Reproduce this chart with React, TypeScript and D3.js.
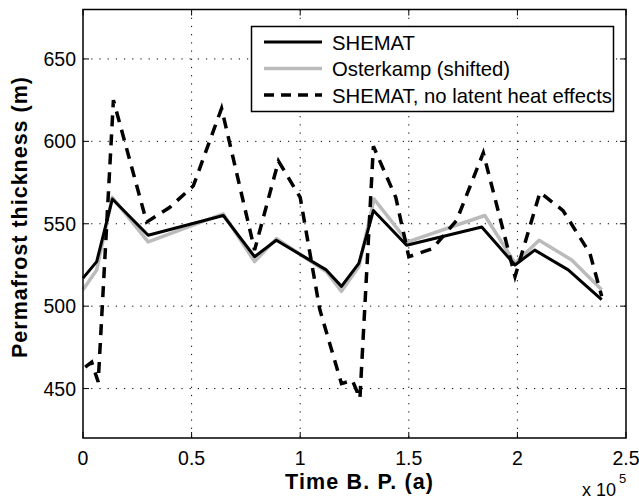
import React from "react";
import * as d3 from "d3";

const shematT = [0, 0.063, 0.135, 0.30, 0.646, 0.79, 0.89, 1.12, 1.19, 1.27, 1.337, 1.49, 1.836, 1.989, 2.08, 2.234, 2.388];
const shematV = [517, 527, 565, 543, 555, 530, 540, 522, 512, 526, 558, 537, 548, 525, 534, 522, 504];

const osterT = [0, 0.063, 0.135, 0.30, 0.646, 0.79, 0.89, 1.12, 1.19, 1.27, 1.34, 1.495, 1.85, 1.989, 2.10, 2.25, 2.388];
const osterV = [510, 522, 566, 539, 556, 527, 541, 521, 509, 524, 565, 539, 555, 526, 540, 528, 510];

const dashT = [0.01, 0.04, 0.07, 0.14, 0.293, 0.40, 0.508, 0.638, 0.79, 0.90, 1.00, 1.09, 1.19, 1.24, 1.275, 1.337, 1.44, 1.50, 1.61, 1.72, 1.78, 1.843, 1.989, 2.104, 2.21, 2.334, 2.388];
const dashV = [463, 466, 454, 625, 551, 560, 573, 620, 534, 588, 566, 498, 453, 455, 444, 597, 566, 530, 535, 552, 572, 593, 518, 569, 558, 532, 506];

const xTicks = [0, 0.5, 1, 1.5, 2, 2.5];
const xTickLabels = ["0", "0.5", "1", "1.5", "2", "2.5"];
const yTicks = [450, 500, 550, 600, 650];

const legendLabels = ["SHEMAT", "Osterkamp (shifted)", "SHEMAT, no latent heat effects"];

export default function App() {
  const left = 83, right = 626, top = 9.5, bottom = 438;
  const x = d3.scaleLinear().domain([0, 2.5]).range([left, right]);
  const y = d3.scaleLinear().domain([420, 680]).range([bottom, top]);
  const line = d3.line<[number, number]>().x(d => x(d[0])).y(d => y(d[1]));
  const shemat = shematT.map((t, i) => [t, shematV[i]] as [number, number]);
  const oster = osterT.map((t, i) => [t, osterV[i]] as [number, number]);
  const dash = dashT.map((t, i) => [t, dashV[i]] as [number, number]);
  const font = "Helvetica, Arial, 'Liberation Sans', sans-serif";

  const legendStyles = [
    { stroke: "#000", width: 3, dash: "" },
    { stroke: "#bbb", width: 3.5, dash: "" },
    { stroke: "#000", width: 3.5, dash: "10,7" },
  ];

  return (
    <svg width={639} height={500} style={{ position: "absolute", left: 0, top: 0, background: "#fff" }} fontFamily={font}>
      <rect x={0} y={0} width={639} height={500} fill="#fff" />
      {xTicks.slice(1, -1).map(t => (
        <line key={"gx" + t} x1={x(t)} x2={x(t)} y1={top} y2={bottom} stroke="#000" strokeWidth={1} strokeDasharray="1.2,7" />
      ))}
      {yTicks.map(t => (
        <line key={"gy" + t} x1={left} x2={right} y1={y(t)} y2={y(t)} stroke="#000" strokeWidth={1} strokeDasharray="1.2,7" />
      ))}
      {xTicks.map(t => (
        <g key={"tx" + t}>
          <line x1={x(t)} x2={x(t)} y1={bottom} y2={bottom - 6} stroke="#000" />
          <line x1={x(t)} x2={x(t)} y1={top} y2={top + 6} stroke="#000" />
        </g>
      ))}
      {yTicks.map(t => (
        <g key={"ty" + t}>
          <line x1={left} x2={left + 6} y1={y(t)} y2={y(t)} stroke="#000" />
          <line x1={right} x2={right - 6} y1={y(t)} y2={y(t)} stroke="#000" />
        </g>
      ))}
      <path d={line(oster) || ""} fill="none" stroke="#bbb" strokeWidth={3.5} strokeLinejoin="round" />
      <path d={line(shemat) || ""} fill="none" stroke="#000" strokeWidth={3} strokeLinejoin="round" />
      <path d={line(dash) || ""} fill="none" stroke="#000" strokeWidth={3.5} strokeDasharray="11,8" />
      <rect x={left} y={top} width={right - left} height={bottom - top} fill="none" stroke="#000" strokeWidth={1.5} />
      {xTicks.map((t, i) => (
        <text key={"lx" + t} x={x(t)} y={465} textAnchor="middle" fontSize={19.5}>{xTickLabels[i]}</text>
      ))}
      {yTicks.map(t => (
        <text key={"ly" + t} x={76} y={y(t) + 7} textAnchor="end" fontSize={19.5}>{t}</text>
      ))}
      <text x={582} y={496} fontSize={18}>x 10</text>
      <text x={619} y={483} fontSize={13}>5</text>
      <text x={359} y={489} textAnchor="middle" fontSize={21.5} fontWeight="bold" textLength={148} lengthAdjust="spacing">Time B. P. (a)</text>
      <text transform={`translate(27,217.5) rotate(-90)`} textAnchor="middle" fontSize={21.5} fontWeight="bold" textLength={281} lengthAdjust="spacing">Permafrost thickness (m)</text>
      <rect x={251.5} y={26.5} width={362} height={85} fill="#fff" stroke="#000" strokeWidth={1.5} />
      {legendLabels.map((lab, i) => (
        <g key={lab}>
          <line x1={264} x2={322} y1={42 + i * 26.5} y2={42 + i * 26.5} stroke={legendStyles[i].stroke} strokeWidth={legendStyles[i].width} strokeDasharray={legendStyles[i].dash} />
          <text x={332} y={49.5 + i * 26.5} fontSize={20.3}>{lab}</text>
        </g>
      ))}
    </svg>
  );
}
